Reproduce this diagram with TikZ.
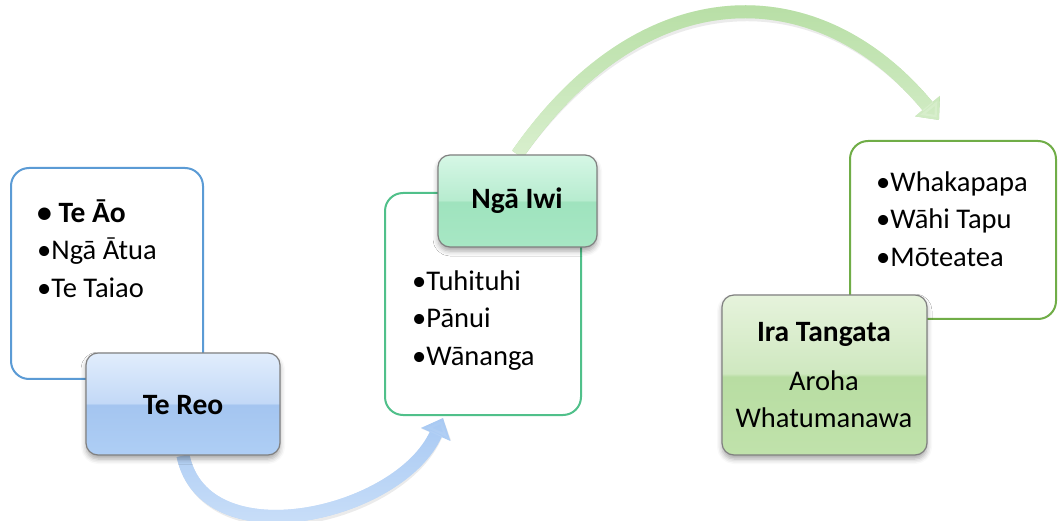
\documentclass[tikz,border=0pt]{standalone}
\usepackage{fontspec}
\setmainfont{Carlito}
\usetikzlibrary{arrows.meta,shadows.blur,backgrounds,fadings}

\definecolor{blueline}{HTML}{5B9BD5}
\definecolor{mintline}{HTML}{50C08A}
\definecolor{leafline}{HTML}{70AD47}
\definecolor{hdgray}{HTML}{808080}
\definecolor{bluedark}{HTML}{A6C8F3}
\definecolor{bluelight}{HTML}{D6E7FB}
\definecolor{greendark}{HTML}{B0DB9C}
\definecolor{greenlight}{HTML}{DAF0CF}

\definecolor{blA}{HTML}{E1EDFC}
\definecolor{blB}{HTML}{C3D9F7}
\definecolor{blC}{HTML}{A4C5F0}
\definecolor{blD}{HTML}{AECEF5}
\pgfdeclareverticalshading{blueshade}{100bp}{color(0bp)=(blD); color(25bp)=(blD); color(49.5bp)=(blC); color(50.5bp)=(blB); color(75bp)=(blA); color(100bp)=(blA)}

\definecolor{mnA}{HTML}{D6F7E6}
\definecolor{mnB}{HTML}{B7ECCF}
\definecolor{mnC}{HTML}{9FE3BE}
\definecolor{mnD}{HTML}{A7E7C4}
\pgfdeclareverticalshading{mintshade}{100bp}{color(0bp)=(mnD); color(25bp)=(mnD); color(49.5bp)=(mnC); color(50.5bp)=(mnB); color(75bp)=(mnA); color(100bp)=(mnA)}

\definecolor{lfA}{HTML}{E6F3DC}
\definecolor{lfB}{HTML}{CFE8C0}
\definecolor{lfC}{HTML}{B8DDA2}
\definecolor{lfD}{HTML}{C0E2AB}
\pgfdeclareverticalshading{leafshade}{100bp}{color(0bp)=(lfD); color(25bp)=(lfD); color(49.5bp)=(lfC); color(50.5bp)=(lfB); color(75bp)=(lfA); color(100bp)=(lfA)}

\begin{document}
\begin{tikzpicture}[x=1pt,y=-1pt,
  outlinebox/.style={draw=#1, line width=2pt, rounded corners=18pt, fill=white, inner sep=0pt},
  headbox/.style={draw=hdgray, line width=1.2pt, rounded corners=12pt, shading=#1, inner sep=0pt,
    blur shadow={shadow xshift=0pt, shadow yshift=-4pt, shadow blur radius=5pt, shadow opacity=35}},
  reg/.style={font=\fontsize{28.5}{34}\selectfont, inner sep=0pt, anchor=base west},
  bld/.style={font=\bfseries\fontsize{29.5}{35}\selectfont, inner sep=0pt, anchor=base},
  cen/.style={font=\fontsize{28.5}{34}\selectfont, inner sep=0pt, anchor=base},
  flow/.style={line width=13pt, draw=#1, -{Triangle[width=31pt,length=18pt,fill=#1]}},
  flowshadow/.style={line width=13pt, draw=black, opacity=0.08, -{Triangle[width=31pt,length=18pt,fill=black]}}
]
\useasboundingbox (0,0) rectangle (1058,521);

% outline boxes
\node[outlinebox=blueline, minimum width=192pt, minimum height=211pt] (box1) at (107,273.5) {};
\node[outlinebox=mintline, minimum width=196pt, minimum height=222pt] (box2) at (483,304) {};
\node[outlinebox=leafline, minimum width=206pt, minimum height=178pt] (box3) at (953,230) {};

% header boxes
\node[headbox=blueshade, minimum width=194pt, minimum height=102pt] (tereo) at (183,404) {};
\node[headbox=mintshade, minimum width=159pt, minimum height=92pt] (ngaiwi) at (517.5,201) {};
\node[headbox=leafshade, minimum width=205pt, minimum height=160pt] (ira) at (824.5,375) {};

% arrows
\coordinate (a1end) at (443,418);
\coordinate (a2end) at (939,120);
\begin{scope}[on background layer]
  \begin{scope}[shift={(2,4)}]
    \draw[flowshadow] (tereo.south) .. controls (205,560) and (400,515) .. (a1end);
    \draw[flowshadow] (ngaiwi.north) .. controls (643,-27) and (818,-27) .. (a2end);
  \end{scope}
  \draw[flow=bluedark] (tereo.south) .. controls (205,560) and (400,515) .. (a1end);
  \draw[flow=bluelight, path fading=north] (tereo.south) .. controls (205,560) and (400,515) .. (a1end);
  \draw[flow=greendark] (ngaiwi.north) .. controls (643,-27) and (818,-27) .. (a2end);
  \draw[flow=greenlight, path fading=north] (ngaiwi.north) .. controls (643,-27) and (818,-27) .. (a2end);
\end{scope}

% texts box1
\node[bld, anchor=base west] (t1) at (37,223) {• Te Āo};
\node[reg] (t2) at (37,260) {•Ngā Ātua};
\node[reg] (t3) at (37,298) {•Te Taiao};
\node[bld] (t4) at (183,414) {Te Reo};

% texts box2
\node[bld] (t5) at (517,209) {Ngā Iwi};
\node[reg] (t6) at (412,291) {•Tuhituhi};
\node[reg] (t7) at (412,328) {•Pānui};
\node[reg] (t8) at (412,366) {•Wānanga};

% texts box3
\node[reg] (t9) at (876,192) {•Whakapapa};
\node[reg] (t10) at (876,229) {•Wāhi Tapu};
\node[reg] (t11) at (876,267) {•Mōteatea};
\node[bld] (t12) at (824,342) {Ira Tangata};
\node[cen] (t13) at (824,390) {Aroha};
\node[cen] (t14) at (824,427) {Whatumanawa};
\end{tikzpicture}
\end{document}
